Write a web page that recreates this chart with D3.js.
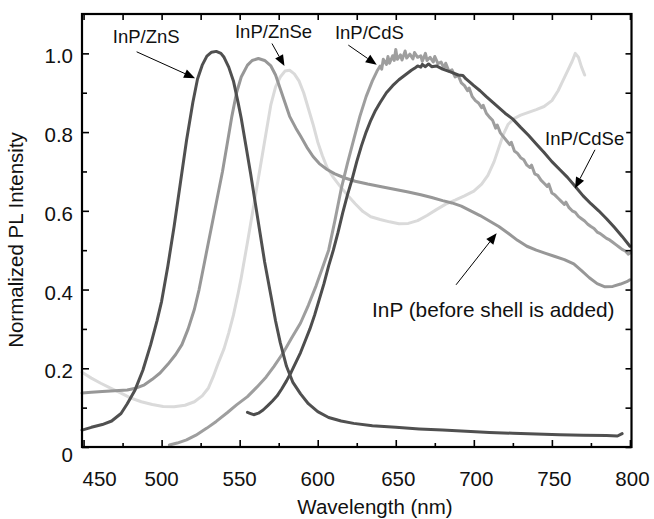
<!DOCTYPE html>
<html>
<head>
<meta charset="utf-8">
<script src="https://cdn.jsdelivr.net/npm/d3@7"></script>
<style>
  html, body { margin: 0; padding: 0; background: #fff; }
  svg { display: block; }
  text { font-family: "Liberation Sans", Arial, Helvetica, sans-serif; fill: #111; }
</style>
</head>
<body>
<svg id="chart" width="654" height="519"></svg>
<script>
// Photoluminescence spectra, [wavelength nm, normalized intensity]
const inpZnS = [
  [449,0.043],[455,0.05],[462,0.057],[468,0.066],[474,0.085],[478,0.11],[483,0.145],[488,0.195],
  [493,0.26],[497,0.32],[500,0.37],[504,0.46],[508,0.56],[512,0.67],[516,0.78],[520,0.875],
  [523,0.935],[526,0.97],[529,0.993],[532,1.003],[535,1.005],[538,1.0],[540,0.99],[543,0.965],
  [546,0.93],[549,0.875],[551,0.835],[554,0.765],[557,0.695],[560,0.62],[563,0.545],[566,0.47],
  [570,0.385],[573,0.32],[576,0.265],[580,0.205],[584,0.165],[589,0.135],[594,0.11],[600,0.09],
  [607,0.075],[615,0.066],[623,0.06],[635,0.054],[650,0.05],[665,0.046],[680,0.043],[695,0.04],
  [710,0.037],[725,0.035],[740,0.033],[755,0.031],[770,0.03],[785,0.029],[792,0.028],[795,0.034]
];
const inpCore = [
  [449,0.137],[455,0.139],[462,0.141],[470,0.143],[478,0.145],[484,0.15],[489,0.158],[494,0.172],
  [499,0.188],[504,0.21],[509,0.235],[513,0.26],[517,0.3],[521,0.35],[524,0.4],[527,0.46],
  [530,0.52],[533,0.58],[536,0.64],[539,0.7],[542,0.77],[545,0.84],[548,0.9],[551,0.94],
  [555,0.97],[558,0.982],[562,0.987],[566,0.982],[570,0.968],[573,0.945],[576,0.91],[579,0.875],
  [582,0.84],[586,0.81],[589,0.79],[593,0.762],[597,0.738],[601,0.72],[606,0.705],[611,0.694],
  [617,0.684],[624,0.675],[632,0.668],[640,0.662],[649,0.655],[658,0.648],[666,0.641],[673,0.634],
  [680,0.626],[686,0.62],[692,0.612],[698,0.6],[704,0.588],[710,0.574],[716,0.56],[722,0.543],
  [728,0.525],[734,0.51],[740,0.5],[746,0.492],[752,0.484],[758,0.476],[764,0.465],[769,0.448],
  [774,0.43],[779,0.415],[784,0.407],[789,0.408],[794,0.414],[798,0.42],[800,0.425]
];
const inpZnSe = [
  [449,0.19],[455,0.175],[461,0.162],[467,0.15],[474,0.137],[480,0.125],[487,0.115],[494,0.108],
  [501,0.103],[508,0.102],[515,0.106],[521,0.115],[526,0.13],[530,0.15],[533,0.178],[536,0.21],
  [540,0.25],[543,0.29],[546,0.335],[549,0.39],[551,0.43],[553,0.475],[555,0.52],[558,0.59],
  [561,0.66],[564,0.73],[567,0.8],[570,0.87],[573,0.915],[576,0.94],[579,0.955],[582,0.957],
  [585,0.948],[588,0.93],[591,0.9],[594,0.86],[597,0.82],[600,0.775],[603,0.74],[606,0.71],
  [610,0.685],[614,0.664],[619,0.64],[624,0.618],[629,0.598],[634,0.585],[640,0.578],[646,0.572],
  [652,0.567],[658,0.568],[664,0.575],[670,0.588],[676,0.603],[682,0.617],[688,0.627],[694,0.638],
  [700,0.65],[705,0.668],[709,0.69],[713,0.725],[716,0.76],[719,0.795],[722,0.82],[726,0.835],
  [730,0.843],[735,0.85],[740,0.857],[745,0.865],[750,0.88],[754,0.905],[757,0.93],[760,0.955],
  [763,0.98],[765,1.0],[767,0.99],[769,0.965],[771,0.945]
];
const inpCdS = [
  [505,0.005],[510,0.01],[516,0.018],[522,0.03],[529,0.048],[535,0.065],[542,0.087],[548,0.107],
  [555,0.128],[561,0.152],[567,0.178],[572,0.205],[578,0.24],[583,0.275],[589,0.315],[594,0.36],
  [599,0.41],[603,0.455],[607,0.5],[611,0.575],[615,0.655],[619,0.72],[623,0.78],[627,0.84],
  [631,0.89],[635,0.93],[638,0.955],[640,0.968],[641,0.96],[642,0.985],[644,0.972],[645,0.992],
  [646,0.975],[648,0.994],[649,0.982],[650,1.01],[651,0.985],[653,0.996],[654,0.983],[656,1.006],
  [657,0.988],[659,0.998],[661,0.986],[662,1.002],[664,0.99],[666,0.994],[667,0.98],[669,1.0],
  [670,0.982],[672,0.99],[674,0.978],[675,0.992],[677,0.974],[679,0.978],[681,0.962],[682,0.975],
  [684,0.955],[686,0.958],[688,0.94],[690,0.944],[692,0.925],[694,0.918],[696,0.905],[697,0.912],
  [699,0.89],[701,0.88],[703,0.874],[705,0.862],[706,0.868],[708,0.848],[710,0.838],[712,0.83],
  [714,0.81],[715,0.818],[717,0.798],[719,0.788],[721,0.778],[723,0.768],[724,0.774],[726,0.752],
  [728,0.746],[730,0.735],[732,0.73],[734,0.716],[736,0.71],[737,0.716],[739,0.694],[741,0.69],
  [743,0.678],[745,0.67],[747,0.662],[748,0.668],[750,0.645],[752,0.64],[754,0.632],[756,0.624],
  [758,0.616],[759,0.622],[761,0.608],[763,0.6],[765,0.596],[767,0.586],[769,0.58],[771,0.574],
  [773,0.566],[775,0.56],[777,0.555],[779,0.546],[781,0.542],[783,0.536],[785,0.53],[787,0.526],
  [789,0.52],[791,0.514],[793,0.508],[795,0.502],[797,0.498],[799,0.49],[800,0.493]
];
const inpCdSe = [
  [555,0.088],[557,0.085],[559,0.082],[562,0.086],[565,0.094],[568,0.105],[571,0.117],[574,0.13],
  [577,0.148],[580,0.168],[583,0.19],[586,0.215],[589,0.24],[592,0.27],[595,0.3],[598,0.335],
  [601,0.375],[604,0.415],[607,0.46],[610,0.5],[613,0.545],[616,0.595],[619,0.64],[622,0.68],
  [625,0.725],[628,0.765],[631,0.8],[634,0.83],[637,0.855],[640,0.875],[644,0.9],[648,0.918],
  [652,0.933],[656,0.945],[660,0.957],[662,0.962],[664,0.968],[666,0.965],[667,0.972],[669,0.966],
  [671,0.973],[673,0.966],[676,0.968],[680,0.96],[685,0.953],[690,0.945],[693,0.944],[695,0.935],
  [698,0.925],[700,0.918],[704,0.905],[708,0.89],[712,0.876],[716,0.862],[720,0.848],[725,0.833],
  [730,0.812],[735,0.792],[740,0.77],[745,0.748],[750,0.725],[755,0.705],[760,0.685],[765,0.662],
  [770,0.638],[775,0.618],[780,0.6],[785,0.58],[790,0.558],[795,0.535],[800,0.51]
];

// Axis ticks
const xMajorTicks = [450, 500, 550, 600, 650, 700, 750, 800];
const xMinorTicks = [475, 525, 575, 625, 675, 725, 775];
const yMajorTicks = [0, 0.2, 0.4, 0.6, 0.8, 1.0];
const yMinorTicks = [0.1, 0.3, 0.5, 0.7, 0.9];
const yTickLabels = ["0", "0.2", "0.4", "0.6", "0.8", "1.0"];

// Curve labels with arrow start/end, in data units
const labels = [
  { text: "InP/ZnS",  at: [468.7, 1.026], from: [484, 1.004],   to: [521.4, 0.937], size: 18.5 },
  { text: "InP/ZnSe", at: [547, 1.039],   from: [570.7, 1.025], to: [578.7, 0.968], size: 18.5 },
  { text: "InP/CdS",  at: [611, 1.037],   from: [619.6, 1.021], to: [637.8, 0.971], size: 18.5 },
  { text: "InP/CdSe", at: [745.6, 0.767], from: [777.6, 0.755], to: [764.8, 0.657], size: 18.5, boxed: true },
  { text: "InP (before shell is added)", at: [634.8, 0.331], from: [688.6, 0.412], to: [714.6, 0.543], size: 20.8 }
];

const series = [
  { data: inpZnSe, color: "#dadada" },
  { data: inpCore, color: "#979797" },
  { data: inpCdS,  color: "#9e9e9e" },
  { data: inpCdSe, color: "#4d4d4d" },
  { data: inpZnS,  color: "#505050" }
];

const svg = d3.select("#chart");
const m = { left: 82, right: 631.5, top: 14, bottom: 447 };

const x = d3.scaleLinear().domain([449, 801]).range([m.left, m.right]);
const y = d3.scaleLinear().domain([0, 1.1]).range([m.bottom, m.top]);

const line = d3.line().x(d => x(d[0])).y(d => y(d[1]));

const plot = svg.append("g");
series.forEach(s => {
  plot.append("path")
    .datum(s.data)
    .attr("d", line)
    .attr("fill", "none")
    .attr("stroke", s.color)
    .attr("stroke-width", 3)
    .attr("stroke-linejoin", "round")
    .attr("stroke-linecap", "round");
});

// Inward ticks on all four sides
function ticks(axisFn, scale, values, size, transform) {
  const g = svg.append("g")
    .attr("transform", transform)
    .call(axisFn(scale).tickValues(values).tickSize(-size).tickFormat(""));
  g.select(".domain").remove();
  g.selectAll(".tick line").attr("stroke", "#000").attr("stroke-width", 1.6);
  return g;
}
ticks(d3.axisBottom, x, xMajorTicks, 7, `translate(0,${m.bottom})`);
ticks(d3.axisBottom, x, xMinorTicks, 4, `translate(0,${m.bottom})`);
ticks(d3.axisTop, x, xMajorTicks.concat(xMinorTicks), 6, `translate(0,${m.top})`);
ticks(d3.axisLeft, y, yMajorTicks, 7, `translate(${m.left},0)`);
ticks(d3.axisLeft, y, yMinorTicks, 5, `translate(${m.left},0)`);
ticks(d3.axisRight, y, yMajorTicks.concat(yMinorTicks), 6, `translate(${m.right},0)`);

// Frame
svg.append("rect")
  .attr("x", m.left).attr("y", m.top)
  .attr("width", m.right - m.left).attr("height", m.bottom - m.top)
  .attr("fill", "none").attr("stroke", "#000").attr("stroke-width", 2.2);

// Tick labels
svg.append("g").selectAll("text")
  .data(xMajorTicks)
  .join("text")
  .attr("x", d => d === 450 ? x(d) - 1 : x(d) + (d >= 650 ? 2.5 : 0))
  .attr("y", 486)
  .attr("text-anchor", d => d === 450 ? "start" : "middle")
  .attr("font-size", 20.5)
  .text(d => d);

svg.append("g").selectAll("text")
  .data(yMajorTicks)
  .join("text")
  .attr("x", 73)
  .attr("y", d => d === 0 ? y(d) + 15 : y(d) + 10)
  .attr("text-anchor", "end")
  .attr("font-size", 20.5)
  .text((d, i) => yTickLabels[i]);

// Axis titles
svg.append("text")
  .attr("x", 375).attr("y", 514)
  .attr("text-anchor", "middle")
  .attr("font-size", 20.5)
  .text("Wavelength (nm)");

svg.append("text")
  .attr("transform", "translate(23,240) rotate(-90)")
  .attr("text-anchor", "middle")
  .attr("font-size", 20.5)
  .text("Normalized PL Intensity");

// Curve labels and arrows
function arrow(g, x1, y1, x2, y2) {
  const ang = Math.atan2(y2 - y1, x2 - x1);
  const len = 11, half = 4.5;
  const bx = x2 - len * Math.cos(ang), by = y2 - len * Math.sin(ang);
  g.append("line")
    .attr("x1", x1).attr("y1", y1).attr("x2", bx).attr("y2", by)
    .attr("stroke", "#000").attr("stroke-width", 1);
  g.append("path")
    .attr("d", `M${x2},${y2}L${bx + half * Math.sin(ang)},${by - half * Math.cos(ang)}L${bx - half * Math.sin(ang)},${by + half * Math.cos(ang)}Z`)
    .attr("fill", "#000");
}

const ann = svg.append("g");
labels.forEach(l => {
  const t = ann.append("text")
    .attr("x", x(l.at[0])).attr("y", y(l.at[1]))
    .attr("font-size", l.size)
    .text(l.text);
  if (l.boxed) {
    const b = t.node().getBBox();
    ann.insert("rect", "text")
      .attr("x", b.x - 2).attr("y", b.y)
      .attr("width", b.width + 4).attr("height", b.height)
      .attr("fill", "#fff");
  }
  arrow(ann, x(l.from[0]), y(l.from[1]), x(l.to[0]), y(l.to[1]));
});
</script>
</body>
</html>
